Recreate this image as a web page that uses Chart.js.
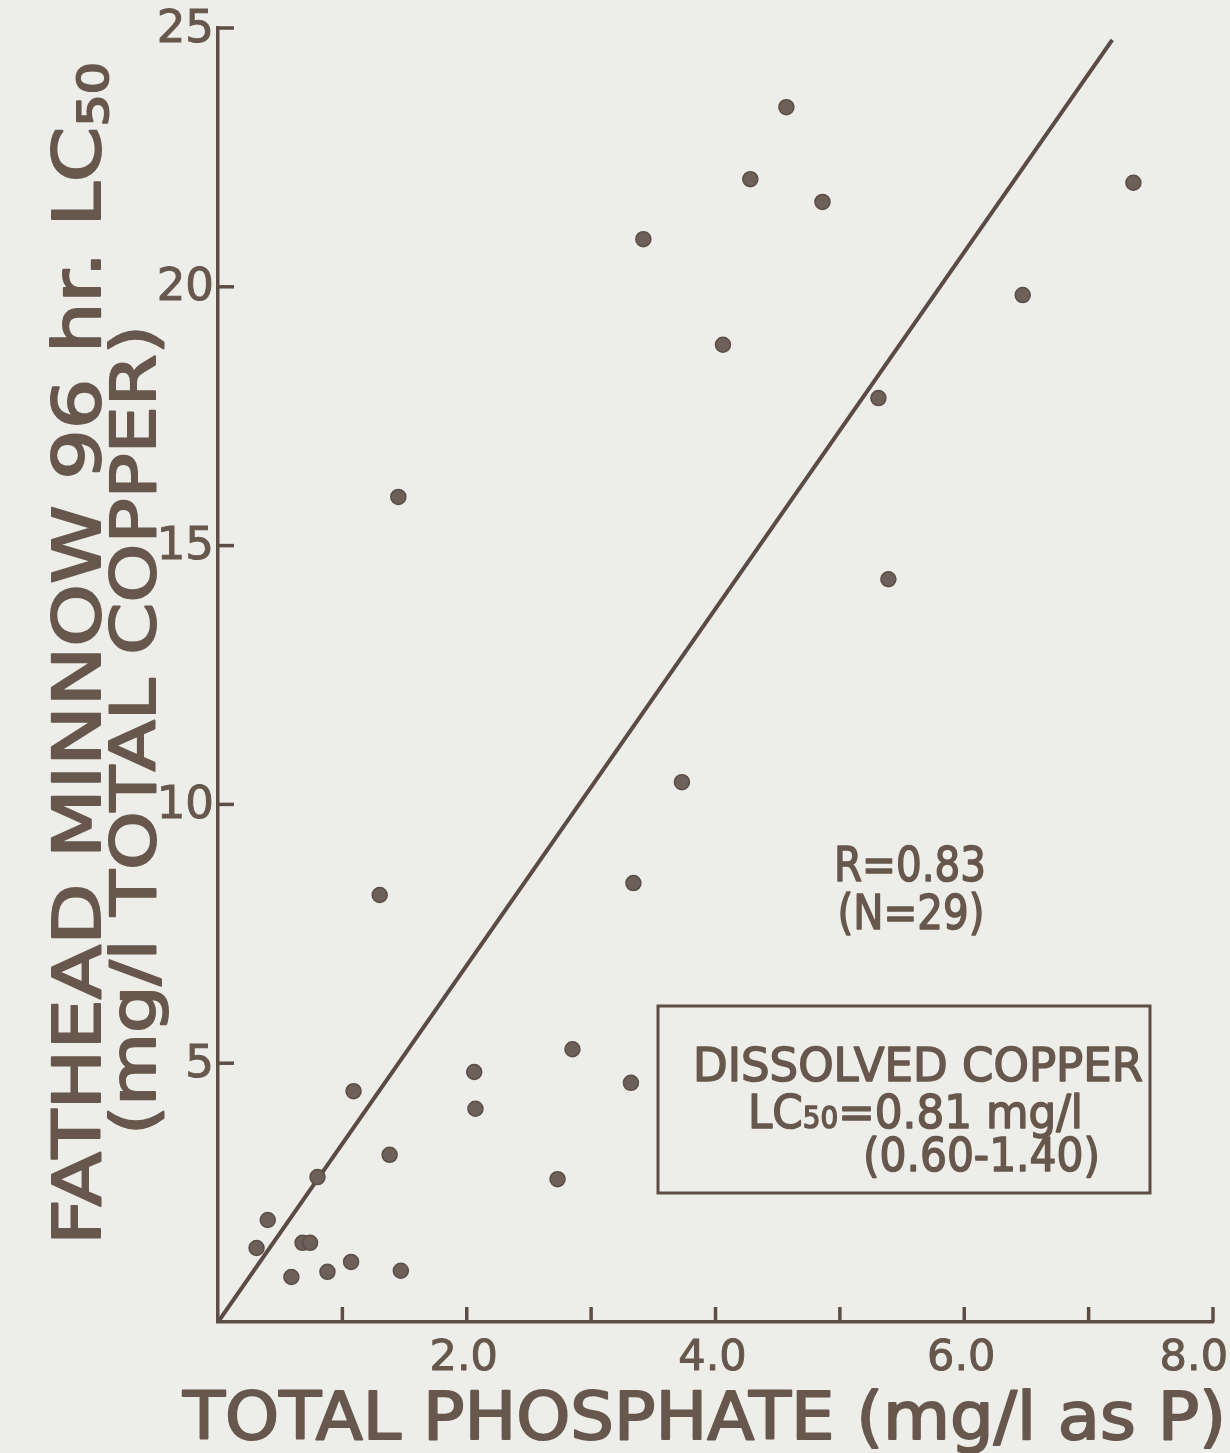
<!DOCTYPE html>
<html>
<head>
<meta charset="utf-8">
<title>Fathead minnow 96 hr LC50 vs total phosphate</title>
<script src="https://cdn.jsdelivr.net/npm/chart.js@4.4.1/dist/chart.umd.min.js"></script>
<style>
  html, body { margin: 0; padding: 0; background: #edeee9; }
  #wrap { position: relative; width: 1230px; height: 1453px; }
  canvas { display: block; }
</style>
</head>
<body>
<div id="wrap"><canvas id="chart" width="1230" height="1453"></canvas></div>
<script>
// Total phosphate of each test water (mg/l as P)
const phosphate = [0.31, 0.40, 0.59, 0.68, 0.74, 0.80, 0.88, 1.07, 1.09, 1.30,
                   1.38, 1.47, 1.45, 2.06, 2.07, 2.73, 2.85, 3.32, 3.34, 3.73,
                   3.42, 4.06, 4.28, 4.57, 4.86, 5.31, 5.39, 6.47, 7.36];
// Fathead minnow 96 hr LC50 (mg/l total copper) for the same tests
const copperLC50 = [1.43, 1.97, 0.87, 1.53, 1.53, 2.80, 0.97, 1.16, 4.46, 8.25,
                    3.23, 0.99, 15.94, 4.83, 4.12, 2.76, 5.27, 4.62, 8.48, 10.43,
                    20.92, 18.88, 22.08, 23.47, 21.64, 17.85, 14.35, 19.84, 22.01];
// Fitted line, end points
const fitX = [0, 7.19];
const fitY = [0, 24.77];
// Axis ticks
const xTickValues = [1, 2, 3, 4, 5, 6, 7, 8];
const xTickLabels = ['', '2.0', '', '4.0', '', '6.0', '', '8.0'];
const yTickValues = [5, 10, 15, 20, 25];
const yTickLabels = ['5', '10', '15', '20', '25'];

const FONT = '"DejaVu Sans", sans-serif';
const INK = '#67574c';
const AXIS = '#5c4e45';

function runsWidth(ctx, runs) {
  let w = 0;
  for (const r of runs) { ctx.font = r.size + 'px ' + FONT; w += ctx.measureText(r.t).width; }
  return w;
}
// Draws a run of text pieces (for subscripts) stretched to a given width,
// with a thin outline to give the lettering-guide stroke weight
function drawRuns(ctx, runs, x, y, width, align, weight) {
  const natural = runsWidth(ctx, runs);
  const s = width / natural;
  const start = align === 'center' ? -width / 2 : align === 'right' ? -width : 0;
  ctx.save();
  ctx.translate(x + start, y);
  ctx.scale(s, 1);
  ctx.textAlign = 'left';
  ctx.textBaseline = 'alphabetic';
  ctx.fillStyle = INK;
  ctx.strokeStyle = INK;
  ctx.lineJoin = 'round';
  ctx.lineWidth = weight === undefined ? 1.6 : weight;
  let cx = 0;
  for (const r of runs) {
    ctx.font = r.size + 'px ' + FONT;
    ctx.fillText(r.t, cx, r.dy || 0);
    if (ctx.lineWidth > 0) ctx.strokeText(r.t, cx, r.dy || 0);
    cx += ctx.measureText(r.t).width;
  }
  ctx.restore();
}

const decorations = {
  id: 'decorations',
  afterDatasetsDraw(chart) {
    const ctx = chart.ctx;
    const xs = chart.scales.x, ys = chart.scales.y;
    const area = chart.chartArea;
    ctx.save();
    // inward tick marks
    ctx.strokeStyle = AXIS;
    ctx.lineWidth = 3.5;
    ctx.lineCap = 'butt';
    xTickValues.forEach(v => {
      const px = xs.getPixelForValue(v);
      ctx.beginPath(); ctx.moveTo(px, area.bottom); ctx.lineTo(px, area.bottom - 15); ctx.stroke();
    });
    yTickValues.forEach(v => {
      const py = ys.getPixelForValue(v);
      ctx.beginPath(); ctx.moveTo(area.left, py); ctx.lineTo(area.left + 16, py); ctx.stroke();
    });
    // tick labels
    ctx.fillStyle = INK;
    ctx.strokeStyle = INK;
    ctx.lineWidth = 1;
    ctx.font = '45px ' + FONT;
    ctx.textBaseline = 'middle';
    ctx.textAlign = 'right';
    yTickValues.forEach((v, i) => {
      const py = ys.getPixelForValue(v) + 2;
      ctx.fillText(yTickLabels[i], area.left - 4, py);
      ctx.strokeText(yTickLabels[i], area.left - 4, py);
    });
    ctx.textBaseline = 'alphabetic';
    ctx.font = '43px ' + FONT;
    xTickValues.forEach((v, i) => {
      const lab = xTickLabels[i];
      if (!lab) return;
      const w = ctx.measureText(lab).width;
      let px = xs.getPixelForValue(v) - 3;
      if (px + w / 2 > chart.width - 2) px = chart.width - 2 - w / 2;
      ctx.textAlign = 'center';
      ctx.fillText(lab, px, 1370);
      ctx.strokeText(lab, px, 1370);
    });
    // axis titles
    drawRuns(ctx, [{ t: 'TOTAL PHOSPHATE (mg/l as P)', size: 66 }], 183, 1439, 1043, 'left', 2);
    ctx.save();
    ctx.translate(100, 1245);
    ctx.rotate(-Math.PI / 2);
    drawRuns(ctx, [{ t: 'FATHEAD MINNOW 96 hr. LC', size: 66 }, { t: '50', size: 42, dy: 8 }], 0, 0, 1183, 'left', 2);
    ctx.restore();
    ctx.save();
    ctx.translate(155, 1135);
    ctx.rotate(-Math.PI / 2);
    drawRuns(ctx, [{ t: '(mg/l TOTAL COPPER)', size: 63 }], 0, 0, 810, 'left', 2);
    ctx.restore();
    // statistics
    drawRuns(ctx, [{ t: 'R=0.83', size: 48 }], 910, 881, 152, 'center');
    drawRuns(ctx, [{ t: '(N=29)', size: 48 }], 911, 929, 147, 'center');
    // boxed note
    ctx.strokeStyle = AXIS;
    ctx.lineWidth = 3;
    ctx.strokeRect(658, 1006, 492, 187);
    drawRuns(ctx, [{ t: 'DISSOLVED COPPER', size: 47 }], 693, 1081, 450, 'left');
    drawRuns(ctx, [{ t: 'LC', size: 47 }, { t: '50', size: 30, dy: 0 }, { t: '=0.81 mg/l', size: 47 }], 748, 1128, 335, 'left');
    drawRuns(ctx, [{ t: '(0.60-1.40)', size: 47 }], 863, 1171, 237, 'left');
    ctx.restore();
  }
};

new Chart(document.getElementById('chart'), {
  type: 'scatter',
  data: {
    datasets: [
      {
        type: 'line',
        data: fitX.map((x, i) => ({ x, y: fitY[i] })),
        borderColor: '#5a4c44',
        borderWidth: 4,
        pointRadius: 0,
        fill: false,
        order: 2
      },
      {
        data: phosphate.map((x, i) => ({ x, y: copperLC50[i] })),
        backgroundColor: '#6d6058',
        borderColor: '#5b4e47',
        borderWidth: 1.5,
        pointRadius: 7.5,
        order: 1
      }
    ]
  },
  options: {
    responsive: false,
    devicePixelRatio: 1,
    animation: false,
    events: [],
    layout: { padding: { left: 218, right: 17, top: 28, bottom: 131 } },
    plugins: { legend: { display: false }, tooltip: { enabled: false } },
    scales: {
      x: {
        type: 'linear', min: 0, max: 8,
        grid: { display: false, drawTicks: false },
        border: { display: true, color: AXIS, width: 3.5 },
        ticks: { display: false },
        afterFit(s) { s.height = 0; }
      },
      y: {
        type: 'linear', min: 0, max: 25,
        grid: { display: false, drawTicks: false },
        border: { display: true, color: AXIS, width: 3.5 },
        ticks: { display: false },
        afterFit(s) { s.width = 0; }
      }
    }
  },
  plugins: [decorations]
});
</script>
</body>
</html>
